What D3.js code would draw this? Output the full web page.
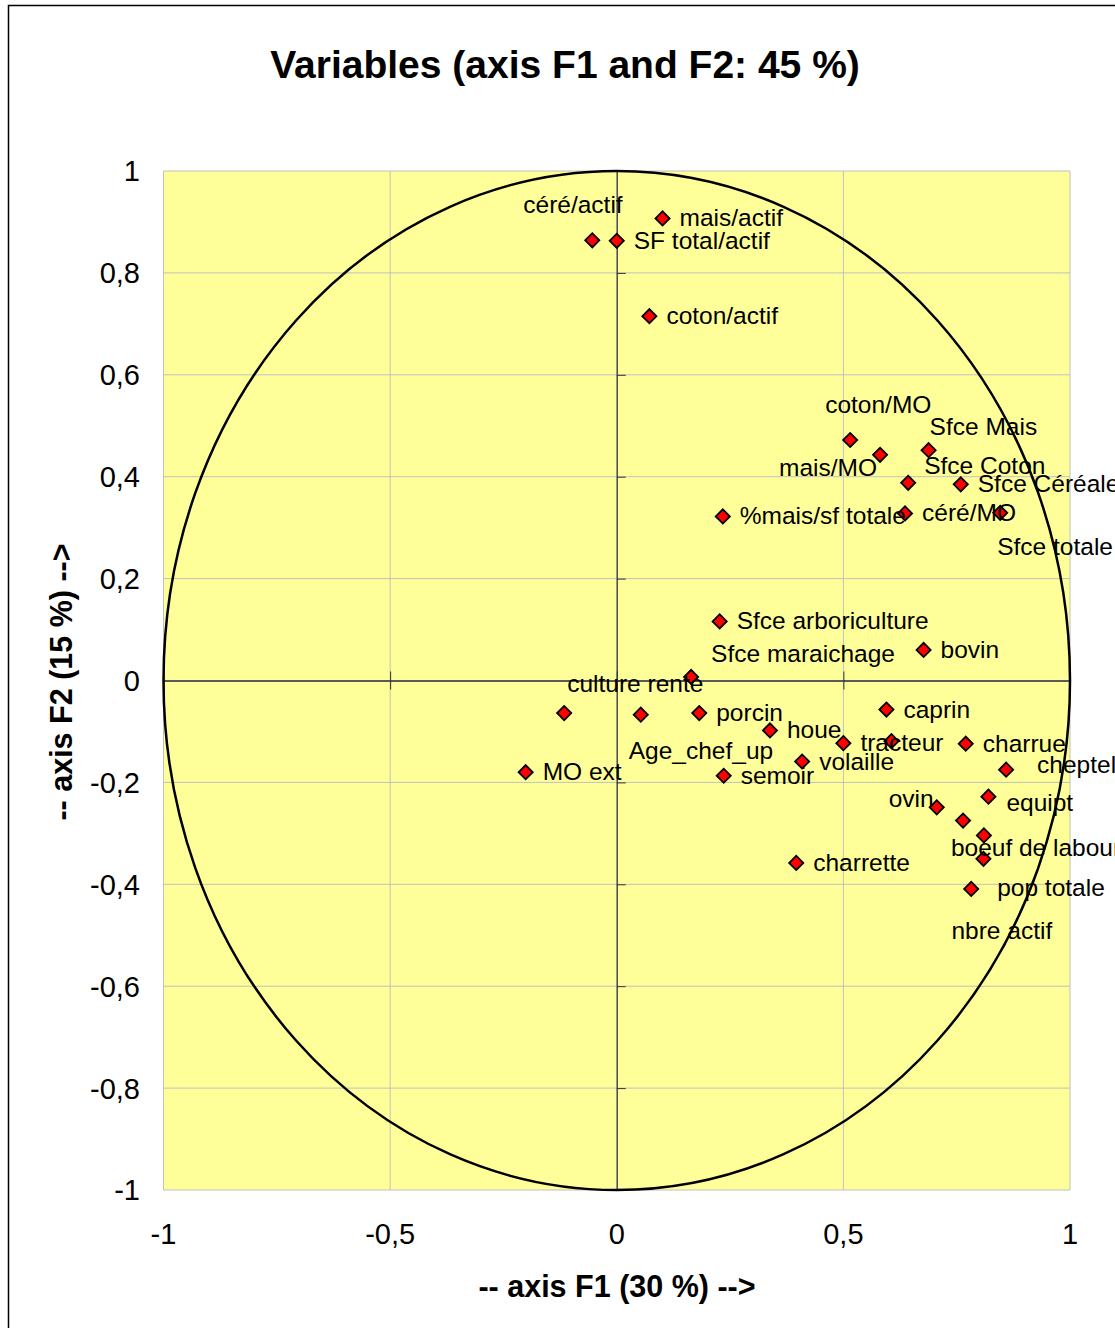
<!DOCTYPE html>
<html>
<head>
<meta charset="utf-8">
<script src="https://cdn.jsdelivr.net/npm/d3@7"></script>
<style>
  html, body { margin: 0; padding: 0; background: #fff; }
  svg { display: block; font-family: "Liberation Sans", Arial, sans-serif; }
</style>
</head>
<body>
<svg id="chart" width="1115" height="1328"></svg>
<script>
// ---- data ----
const names = ["céré/actif","mais/actif","SF total/actif","coton/actif","coton/MO","mais/MO","Sfce Mais","Sfce Coton","Sfce Céréale","%mais/sf totale","céré/MO","Sfce totale","Sfce arboriculture","Sfce maraichage","bovin","culture rente","Age_chef_up","porcin","caprin","houe","tracteur","","charrue","cheptel","volaille","MO ext","semoir","equipt","ovin","","boeuf de labour","nbre actif","charrette","pop totale"];
const f1 = [-0.054,0.101,0.000,0.072,0.515,0.581,0.688,0.643,0.759,0.234,0.636,0.846,0.227,0.164,0.677,-0.116,0.053,0.182,0.595,0.338,0.500,0.606,0.770,0.859,0.409,-0.201,0.236,0.820,0.706,0.764,0.810,0.809,0.396,0.782];
const f2 = [0.864,0.907,0.863,0.715,0.472,0.443,0.452,0.388,0.385,0.322,0.328,0.329,0.116,0.007,0.060,-0.064,-0.067,-0.064,-0.057,-0.098,-0.123,-0.119,-0.124,-0.175,-0.159,-0.180,-0.187,-0.228,-0.249,-0.275,-0.304,-0.350,-0.358,-0.409];
const xTicks = [-1,-0.5,0,0.5,1];
const yTicks = [-1,-0.8,-0.6,-0.4,-0.2,0,0.2,0.4,0.6,0.8,1];
const title = "Variables (axis F1 and F2: 45 %)";
const xTitle = "-- axis F1 (30 %) -->";
const yTitle = "-- axis F2 (15 %) -->";

// ---- layout (label placement offsets in px, text start / baseline) ----
const defaultOffset = [17, 8];
const labelOffsets = {
  "céré/actif": [-69,-27], "coton/MO": [-25,-27], "mais/MO": [-101,21],
  "Sfce Mais": [1,-15], "Sfce Coton": [16,-9], "Sfce totale": [-3,42],
  "Sfce maraichage": [20,-15], "culture rente": [3,-21], "Age_chef_up": [-12,44],
  "cheptel": [31,3], "equipt": [18,14], "ovin": [-48,0],
  "boeuf de labour": [-33,21], "nbre actif": [-32,80], "pop totale": [26,7]
};

const svg = d3.select("#chart");
const fmt = v => String(v).replace(".", ",");

const x = d3.scaleLinear().domain([-1, 1]).range([163.5, 1070]);
const y = d3.scaleLinear().domain([-1, 1]).range([1190, 171]);

// outer frame
svg.append("rect").attr("x", 8.5).attr("y", 5.5).attr("width", 1130).attr("height", 1340)
  .attr("fill", "#fff").attr("stroke", "#000").attr("stroke-width", 1.5);

// plot background
svg.append("rect").attr("x", x(-1)).attr("y", y(1))
  .attr("width", x(1) - x(-1)).attr("height", y(-1) - y(1)).attr("fill", "#FFFF99");

// gridlines
const grid = svg.append("g").attr("stroke", "#C0C0C0").attr("stroke-width", 1);
grid.selectAll("line.v").data(xTicks).join("line")
  .attr("x1", d => x(d)).attr("x2", d => x(d)).attr("y1", y(1)).attr("y2", y(-1));
grid.selectAll("line.h").data(yTicks).join("line")
  .attr("x1", x(-1)).attr("x2", x(1)).attr("y1", d => y(d)).attr("y2", d => y(d));

// axis lines through origin with crossing ticks
const xAxisG = svg.append("g").attr("transform", `translate(0,${y(0)})`)
  .call(d3.axisBottom(x).tickValues(xTicks).tickSizeInner(9).tickSizeOuter(0).tickFormat(""));
xAxisG.selectAll(".tick line").attr("y1", -9).attr("stroke", "#333");
xAxisG.select(".domain").attr("stroke", "#5a5a5a").attr("stroke-width", 2);

const yAxisG = svg.append("g").attr("transform", `translate(${x(0)},0)`)
  .call(d3.axisLeft(y).tickValues(yTicks).tickSizeInner(9).tickSizeOuter(0).tickFormat(""));
yAxisG.selectAll(".tick line").attr("x2", 9).attr("stroke", "#333");
yAxisG.select(".domain").attr("stroke", "#333").attr("stroke-width", 1.2);

// tick labels
svg.append("g").selectAll("text").data(yTicks).join("text")
  .attr("x", 140).attr("y", d => y(d)).attr("dy", "0.36em")
  .attr("text-anchor", "end").attr("font-size", 29).text(d => fmt(d));
svg.append("g").selectAll("text").data(xTicks).join("text")
  .attr("x", d => x(d)).attr("y", 1244)
  .attr("text-anchor", "middle").attr("font-size", 29).text(d => fmt(d));

// correlation circle
svg.append("ellipse").attr("cx", x(0)).attr("cy", y(0))
  .attr("rx", x(1) - x(0)).attr("ry", y(0) - y(1))
  .attr("fill", "none").attr("stroke", "#000").attr("stroke-width", 2.5);

// points
const pts = names.map((n, i) => ({ name: n, v1: f1[i], v2: f2[i] }));
const sym = d3.symbol().type(d3.symbolSquare).size(100);
svg.append("g").selectAll("path").data(pts).join("path")
  .attr("d", sym)
  .attr("transform", d => `translate(${x(d.v1)},${y(d.v2)}) rotate(45)`)
  .attr("fill", "#FF0000").attr("stroke", "#000").attr("stroke-width", 1.8);

// labels
svg.append("g").selectAll("text").data(pts.filter(d => d.name)).join("text")
  .attr("x", d => x(d.v1) + (labelOffsets[d.name] || defaultOffset)[0])
  .attr("y", d => y(d.v2) + (labelOffsets[d.name] || defaultOffset)[1])
  .attr("font-size", 24.5).attr("fill", "#000").text(d => d.name);

// titles
svg.append("text").attr("x", 565).attr("y", 78).attr("text-anchor", "middle")
  .attr("font-size", 39).attr("font-weight", "bold").text(title);
svg.append("text").attr("x", 617).attr("y", 1297).attr("text-anchor", "middle")
  .attr("font-size", 30.5).attr("font-weight", "bold").text(xTitle);
svg.append("text").attr("transform", "translate(61,682) rotate(-90)").attr("dy", "0.36em")
  .attr("text-anchor", "middle").attr("font-size", 30.5).attr("font-weight", "bold").text(yTitle);
</script>
</body>
</html>
